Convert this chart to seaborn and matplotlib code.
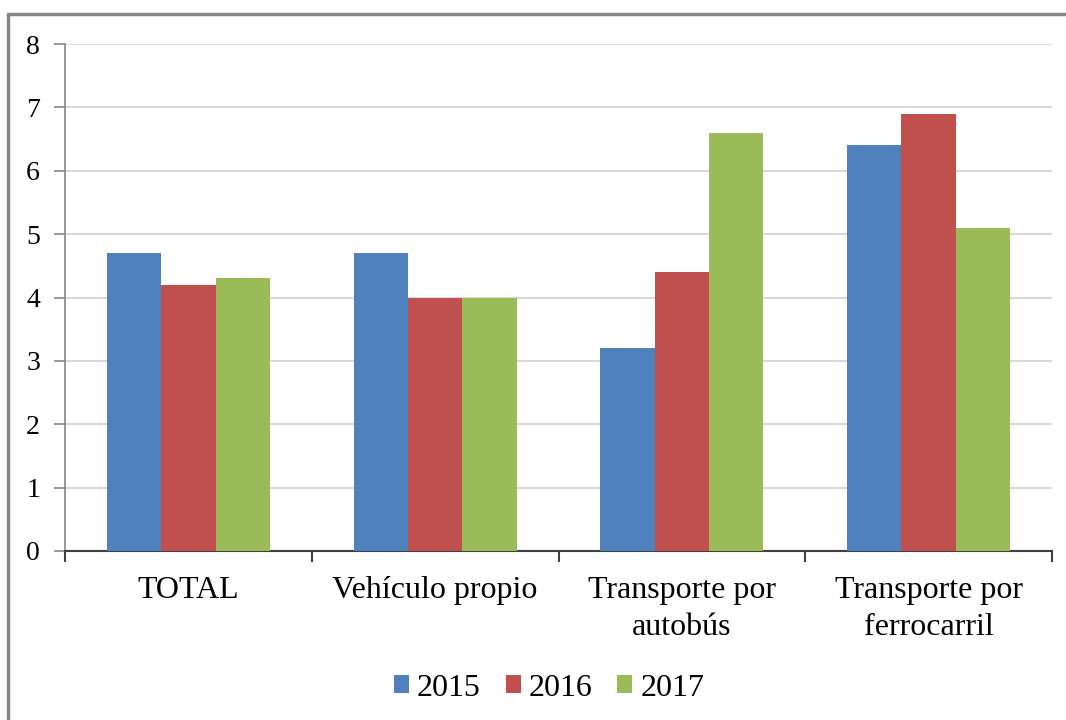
import matplotlib
matplotlib.use("Agg")
import matplotlib.pyplot as plt
from matplotlib.lines import Line2D
from matplotlib.ticker import MultipleLocator, FixedLocator
import seaborn as sns
import pandas as pd

# Datos
categorias = ["TOTAL", "Vehículo propio", "Transporte por\nautobús", "Transporte por\nferrocarril"]
anios = ["2015", "2016", "2017"]
valores_2015 = [4.7, 4.7, 3.2, 6.4]
valores_2016 = [4.2, 4.0, 4.4, 6.9]
valores_2017 = [4.3, 4.0, 6.6, 5.1]
colores = ["#4F81BD", "#C0504D", "#9BBB59"]

df = pd.DataFrame({
    "categoria": categorias * 3,
    "anio": [a for a in anios for _ in categorias],
    "valor": valores_2015 + valores_2016 + valores_2017,
})

sns.set_style("white")
plt.rcParams["font.family"] = ["Liberation Serif", "DejaVu Serif"]
plt.rcParams["text.color"] = "black"
plt.rcParams["xtick.color"] = "black"
plt.rcParams["ytick.color"] = "black"

fig = plt.figure(figsize=(10.66, 7.2), dpi=100)
ax = fig.add_axes([65 / 1066, 169 / 720, 987 / 1066, 507 / 720])

sns.barplot(data=df, x="categoria", y="valor", hue="anio", palette=colores,
            width=0.66, ax=ax, saturation=1, edgecolor="none", zorder=3)

ax.set_ylim(0, 8)
ax.set_xlim(-0.5, 3.5)
ax.yaxis.set_major_locator(MultipleLocator(1))
ax.grid(axis="y", color="#d9d9d9", linewidth=1.5, zorder=0)
ax.set_xlabel("")
ax.set_ylabel("")

for lado in ["top", "right"]:
    ax.spines[lado].set_visible(False)
ax.spines["left"].set_color("#868686")
ax.spines["left"].set_linewidth(1.2)
ax.spines["bottom"].set_color("#404040")
ax.spines["bottom"].set_linewidth(1.5)

ax.tick_params(axis="y", left=True, labelsize=20, length=8, color="#868686", width=1.2,
               pad=10, labelcolor="black")
ax.tick_params(axis="x", which="major", bottom=True, labelsize=23, length=0, pad=18,
               labelcolor="black")
ax.xaxis.set_minor_locator(FixedLocator([-0.5, 0.5, 1.5, 2.5, 3.5]))
ax.tick_params(axis="x", which="minor", bottom=True, length=8, color="#404040", width=1.5)
for t in ax.get_xticklabels():
    t.set_horizontalalignment("center")
    t.set_multialignment("center")
    t.set_verticalalignment("top")
    t.set_linespacing(1.35)

ax.legend(loc="center", bbox_to_anchor=(549 / 1066, 32 / 720), bbox_transform=fig.transFigure,
          ncol=3, frameon=False, fontsize=23, handlelength=0.47, handleheight=0.47,
          handletextpad=0.25, columnspacing=0.78, labelcolor="black")

# Marco gris del área del gráfico
fig.add_artist(Line2D([8 / 1066, 8 / 1066], [0, 1 - 14 / 720], transform=fig.transFigure,
                      color="#868686", linewidth=2.5))
fig.add_artist(Line2D([8 / 1066, 1], [1 - 14 / 720, 1 - 14 / 720], transform=fig.transFigure,
                      color="#868686", linewidth=2.5))

fig.savefig("out.png", dpi=100)
